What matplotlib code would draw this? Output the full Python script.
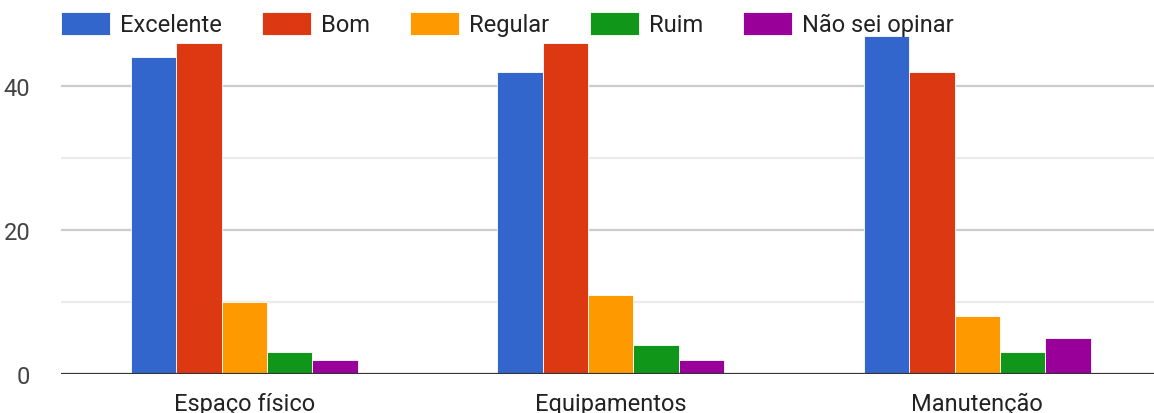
import matplotlib
matplotlib.use("Agg")
import matplotlib.pyplot as plt
import numpy as np

categories = ["Espaço físico", "Equipamentos", "Manutenção"]
series_names = ["Excelente", "Bom", "Regular", "Ruim", "Não sei opinar"]
excelente = [44, 42, 47]
bom = [46, 46, 42]
regular = [10, 11, 8]
ruim = [3, 4, 3]
nao_sei = [2, 2, 5]
colors = ["#3366cc", "#dc3912", "#ff9900", "#109618", "#990099"]

plt.rcParams['font.family'] = ['Roboto', 'DejaVu Sans']

W, H = 1154, 414
fig = plt.figure(figsize=(W / 100, H / 100), dpi=100)
ymax = 48
ppu = 7.2
slot = 366.5
left = 61
bottom = 39
ax = fig.add_axes([left / W, bottom / H, 3 * slot / W, ymax * ppu / H])

x = np.arange(len(categories))
bw = 0.124
all_series = [excelente, bom, regular, ruim, nao_sei]
for i, (name, vals) in enumerate(zip(series_names, all_series)):
    ax.bar(x + (i - 2) * bw, vals, width=bw, color=colors[i], label=name,
           edgecolor="white", linewidth=0.6, zorder=3)

ax.set_xlim(-0.5, 2.5)
ax.set_ylim(0, ymax)
for s in ax.spines.values():
    s.set_visible(False)
for y in [10, 30]:
    ax.axhline(y, color="#ebebeb", linewidth=1.6, zorder=1)
for y in [20, 40]:
    ax.axhline(y, color="#cccccc", linewidth=1.6, zorder=1)
ax.axhline(0, color="#333333", linewidth=2.3, zorder=4)

ax.set_yticks([0, 20, 40])
ax.set_yticklabels(["0", "20", "40"], fontsize=17, color="#444444")
ax.tick_params(axis="y", length=0, pad=22)
ax.set_xticks(x)
ax.set_xticklabels(categories, fontsize=17, color="#222222")
ax.tick_params(axis="x", length=0, pad=13)

fig.legend(loc="upper left", bbox_to_anchor=(left / W, 1 - 13 / H), ncol=5,
           frameon=False, fontsize=17, handlelength=2.08, handleheight=1.1,
           handletextpad=0.42, columnspacing=1.7, borderpad=0, borderaxespad=0,
           labelcolor="#222222")

fig.savefig("out.png", dpi=100)
